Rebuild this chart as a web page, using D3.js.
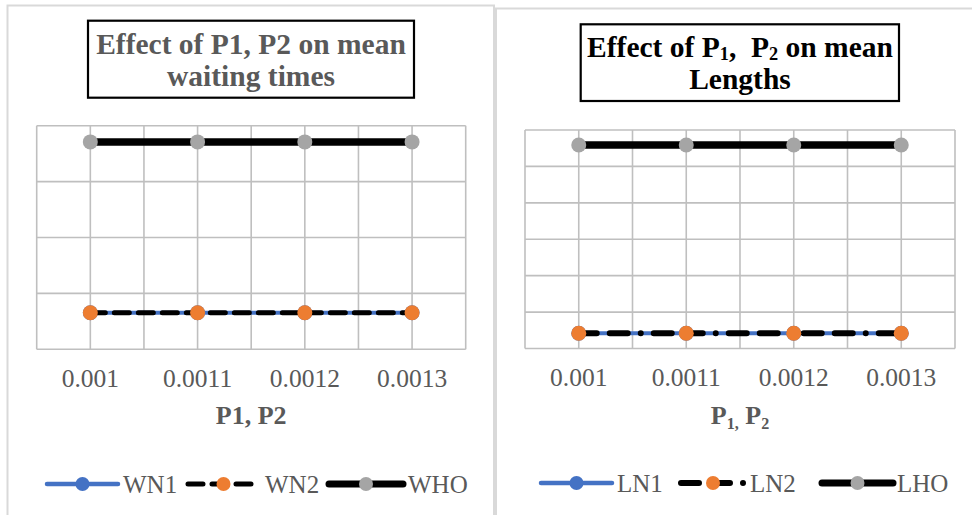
<!DOCTYPE html>
<html>
<head>
<meta charset="utf-8">
<script src="https://cdn.jsdelivr.net/npm/d3@7"></script>
<style>
  html, body { margin: 0; padding: 0; background: #ffffff; }
  svg { display: block; }
</style>
</head>
<body>
<svg id="fig" width="972" height="515"></svg>
<script>
// ---- data ----
const categories = ["0.001", "0.0011", "0.0012", "0.0013"];

// mean waiting times
const waitTicks = [0, 10, 20, 30, 40];
const WN1 = [6.55, 6.55, 6.55, 6.55];
const WN2 = [6.55, 6.55, 6.55, 6.55];
const WHO = [37.1, 37.1, 37.1, 37.1];

// mean lengths
const lenTicks = [0, 1, 2, 3, 4, 5, 6];
const LN1 = [0.42, 0.42, 0.42, 0.42];
const LN2 = [0.42, 0.42, 0.42, 0.42];
const LHO = [5.59, 5.59, 5.59, 5.59];

// ---- styling ----
const FONT = "'Liberation Serif', 'Times New Roman', serif";
const TEXT_GRAY = "#595959";
const GRID = "#bfbfbf";
const FRAME = "#d9d9d9";
const BLUE = "#4472c4", ORANGE = "#ed7d31", GREY = "#a5a5a5";
const TICK_SIZE = 25.5, LEGEND_SIZE = 25, AXIS_TITLE_SIZE = 26;

const svg = d3.select("#fig");

// outer chart frames
svg.append("rect").attr("x", 7.5).attr("y", 5.5).attr("width", 486.5).attr("height", 530)
  .attr("fill", "#fff").attr("stroke", FRAME).attr("stroke-width", 2);
svg.append("rect").attr("x", 496).attr("y", 8.5).attr("width", 500).attr("height", 530)
  .attr("fill", "#fff").attr("stroke", FRAME).attr("stroke-width", 2);

// writes a label made of normal / subscript runs into a single text element
function richText(txt, parts, size, drop) {
  let level = 0;
  parts.forEach(pt => {
    const want = pt.sub ? 1 : 0;
    const s = txt.append("tspan").text(pt.text);
    if (want !== level) s.attr("dy", want ? drop : -drop);
    if (pt.sub) s.attr("font-size", size * 0.62);
    level = want;
  });
}

function drawChart(cfg) {
  const g = svg.append("g");
  const p = cfg.plot;

  const x = d3.scaleBand().domain(categories).range([p.x0, p.x1]).padding(0);
  const bw = x.bandwidth();
  const cx = c => x(c) + bw / 2;
  const y = d3.scaleLinear()
    .domain([cfg.ticks[0], cfg.ticks[cfg.ticks.length - 1]])
    .range([p.y1, p.y0]);

  // title box
  const t = cfg.title;
  g.append("rect").attr("x", t.box[0]).attr("y", t.box[1])
    .attr("width", t.box[2]).attr("height", t.box[3])
    .attr("fill", "#fff").attr("stroke", "#000").attr("stroke-width", 2.2);
  t.lines.forEach((parts, i) => {
    const txt = g.append("text")
      .attr("x", t.cx).attr("y", t.baselines[i])
      .attr("text-anchor", "middle")
      .attr("font-family", FONT).attr("font-weight", "bold")
      .attr("font-size", t.size).attr("fill", t.color)
      .style("white-space", "pre");
    richText(txt, parts, t.size, 3);
  });

  // gridlines
  const gx = [];
  categories.forEach(c => { gx.push(x(c)); gx.push(cx(c)); });
  gx.push(p.x1);
  g.append("g").selectAll("line").data(cfg.ticks).join("line")
    .attr("x1", p.x0).attr("x2", p.x1)
    .attr("y1", d => y(d)).attr("y2", d => y(d))
    .attr("stroke", GRID).attr("stroke-width", 1.6);
  g.append("g").selectAll("line").data(gx).join("line")
    .attr("x1", d => d).attr("x2", d => d)
    .attr("y1", p.y0).attr("y2", p.y1)
    .attr("stroke", GRID).attr("stroke-width", 1.6);

  // category axis labels
  const ax = g.append("g").attr("transform", `translate(0,${p.y1})`)
    .call(d3.axisBottom(x).tickSize(0).tickPadding(0));
  ax.select(".domain").remove();
  ax.selectAll("text")
    .attr("y", cfg.tickBaseline - p.y1).attr("dy", 0)
    .attr("font-family", FONT).attr("font-size", TICK_SIZE).attr("fill", TEXT_GRAY);

  // axis title
  const at = g.append("text").attr("x", (p.x0 + p.x1) / 2).attr("y", cfg.axisTitle.y)
    .attr("text-anchor", "middle").attr("font-family", FONT).attr("font-weight", "bold")
    .attr("font-size", AXIS_TITLE_SIZE).attr("fill", TEXT_GRAY);
  richText(at, cfg.axisTitle.parts, AXIS_TITLE_SIZE, 5);

  // series
  const line = d3.line().x((d, i) => cx(categories[i])).y(d => y(d));
  cfg.series.forEach(s => {
    g.append("path").datum(s.values).attr("d", line)
      .attr("fill", "none").attr("stroke", s.stroke).attr("stroke-width", s.width)
      .attr("stroke-linecap", s.dash ? "round" : "butt")
      .attr("stroke-dasharray", s.dash || null);
    g.append("g").selectAll("circle").data(s.values).join("circle")
      .attr("cx", (d, i) => cx(categories[i])).attr("cy", d => y(d))
      .attr("r", 7.5).attr("fill", s.marker);
  });

  // legend
  cfg.series.forEach((s, i) => {
    const L = cfg.legend.items[i];
    const ly = cfg.legend.y;
    g.append("line").attr("x1", L[0]).attr("x2", L[1]).attr("y1", ly).attr("y2", ly)
      .attr("stroke", s.stroke).attr("stroke-width", s.legendWidth)
      .attr("stroke-linecap", "round")
      .attr("stroke-dasharray", s.dash || null);
    g.append("circle").attr("cx", (L[0] + L[1]) / 2).attr("cy", ly).attr("r", 7).attr("fill", s.marker);
    g.append("text").attr("x", L[2]).attr("y", cfg.legend.textY)
      .attr("font-family", FONT).attr("font-size", LEGEND_SIZE).attr("fill", TEXT_GRAY)
      .text(s.name);
  });
}

// mean waiting times chart
drawChart({
  plot: { x0: 36.7, x1: 465.7, y0: 125.7, y1: 349.3 },
  ticks: waitTicks,
  tickBaseline: 387,
  title: {
    box: [88, 20.7, 326, 77], cx: 251, baselines: [54, 86], size: 29.5, color: TEXT_GRAY,
    lines: [[{ text: "Effect of P1, P2 on mean" }], [{ text: "waiting times" }]]
  },
  axisTitle: { y: 424, parts: [{ text: "P1, P2" }] },
  series: [
    { name: "WN1", values: WN1, stroke: BLUE, width: 4, legendWidth: 4.5, marker: BLUE },
    { name: "WN2", values: WN2, stroke: "#000", width: 5, legendWidth: 5, dash: "15,9", marker: ORANGE },
    { name: "WHO", values: WHO, stroke: "#000", width: 7.5, legendWidth: 7, marker: GREY }
  ],
  legend: { y: 484, textY: 493, items: [[47, 118, 123], [188, 259, 265], [329, 403, 408]] }
});

// mean lengths chart
drawChart({
  plot: { x0: 525, x1: 955, y0: 130, y1: 348.5 },
  ticks: lenTicks,
  tickBaseline: 386,
  title: {
    box: [580.7, 24.3, 318.3, 76.7], cx: 740, baselines: [57, 89], size: 29.5, color: "#000",
    lines: [
      [{ text: "Effect of P" }, { text: "1", sub: true }, { text: ",\u00a0 P" },
       { text: "2", sub: true }, { text: " on mean" }],
      [{ text: "Lengths" }]
    ]
  },
  axisTitle: { y: 424, parts: [{ text: "P" }, { text: "1,", sub: true }, { text: " P" }, { text: "2", sub: true }] },
  series: [
    { name: "LN1", values: LN1, stroke: BLUE, width: 4, legendWidth: 4.5, marker: BLUE },
    { name: "LN2", values: LN2, stroke: "#000", width: 6, legendWidth: 6, dash: "18,13,18,13,0,13", marker: ORANGE },
    { name: "LHO", values: LHO, stroke: "#000", width: 7.5, legendWidth: 7, marker: GREY }
  ],
  legend: { y: 483, textY: 492, items: [[541, 612, 617], [681, 745, 750], [822, 893, 897]] }
});
</script>
</body>
</html>
